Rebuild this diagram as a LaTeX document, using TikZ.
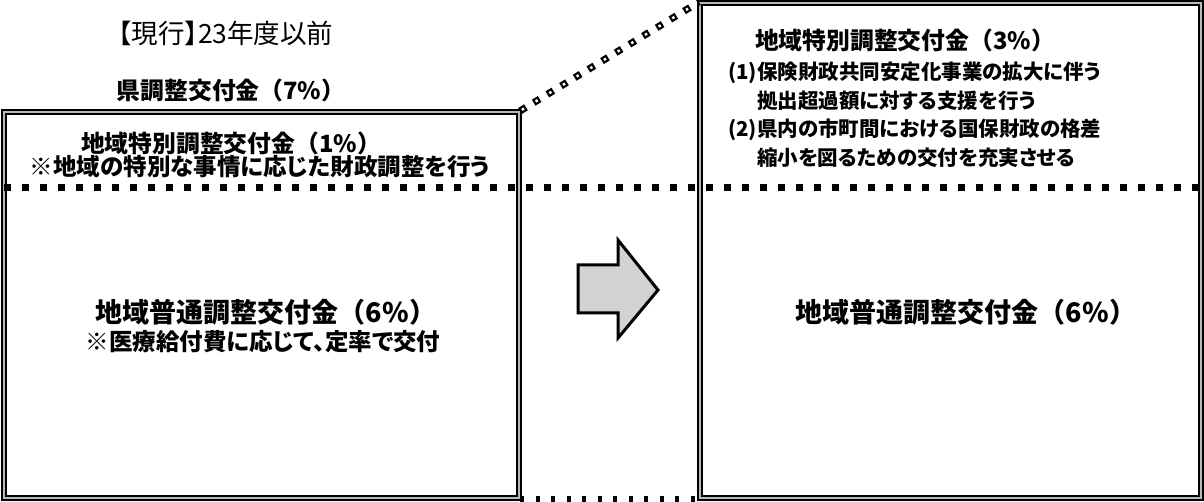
\documentclass[tikz,border=0pt]{standalone}
\usepackage{fontspec}
\newfontfamily\jpfont{Noto Sans CJK JP}
\newfontfamily\jppfont{Noto Sans CJK JP}[RawFeature=+palt]
\usetikzlibrary{positioning}
\tikzstyle{frame} = [draw=black, line width=2pt, double=gray!55, double distance=2.5pt, inner sep=0pt]
\tikzstyle{squaredots} = [draw=black, line width=7pt, dash pattern=on 7pt off 11pt]
\tikzstyle{hollowdots} = [squaredots, dash pattern=on 7pt off 9pt,
    postaction={draw=white, line width=2.5pt, dash pattern=on 2.5pt off 13.5pt, dash phase=13.75pt}]

\begin{document}
\begin{tikzpicture}[x=1pt,y=-1pt,inner sep=0pt]
    \tikzstyle{plain} = [font=\jppfont\fontsize{26.5}{28}\selectfont]
    \tikzstyle{heading} = [font=\jpfont\bfseries\fontsize{23.8}{26}\selectfont]
    \tikzstyle{bigheading} = [font=\jpfont\bfseries\fontsize{27}{30}\selectfont]
    \tikzstyle{note} = [font=\jppfont\bfseries\fontsize{23.5}{26}\selectfont]
    \tikzstyle{body} = [font=\jppfont\bfseries\fontsize{20.5}{28.5}\selectfont, align=left]
    \useasboundingbox (0,0) rectangle (1204,502);
    % the two boxes
    \node[frame, minimum width=515pt, minimum height=386pt] (oldbox) at (261.5,305) {};
    \node[frame, minimum width=501pt, minimum height=495pt] (newbox) at (950.5,250.5) {};
    \coordinate (divL) at (4,188);
    \coordinate (divR) at (1201,188);
    \path [squaredots] (divL) -- (divR);
    \path [hollowdots] (oldbox.north east) -- (newbox.north west);
    \path [squaredots, line width=7pt, dash pattern=on 4pt off 11.5pt] (oldbox.south east) -- (newbox.south west);
    % left side
    \node[plain] (current) at (226,33) {【現行】23年度以前};
    \node[heading] (pref) at (231,90) {県調整交付金（7\%）};
    \node[heading] (oldspecial) at (231,143) {地域特別調整交付金（1\%）};
    \node[note] (oldspecialnote) at (260,167) {※地域の特別な事情に応じた財政調整を行う};
    \node[bigheading] (oldnormal) at (266,312) {地域普通調整交付金（6\%）};
    \node[note] (oldnormalnote) [below=5pt of oldnormal, xshift=-3pt] {※医療給付費に応じて、定率で交付};
    % arrow
    \path [draw=black, line width=3pt, fill=gray!35, line join=miter]
        (578,265) -- (618,265) -- (618,240) -- (658,290) -- (618,338) -- (618,313) -- (578,313) -- cycle;
    % right side
    \node[heading] (newspecial) at (905,40) {地域特別調整交付金（3\%）};
    \node[body, anchor=west] (newspecialnote) at (728,114.5)
        {(1)保険財政共同安定化事業の拡大に伴う\\
         \hspace*{29pt}拠出超過額に対する支援を行う\\
         (2)県内の市町間における国保財政の格差\\
         \hspace*{29pt}縮小を図るための交付を充実させる};
    \node[bigheading] (newnormal) at (966,312) {地域普通調整交付金（6\%）};
\end{tikzpicture}
\end{document}
